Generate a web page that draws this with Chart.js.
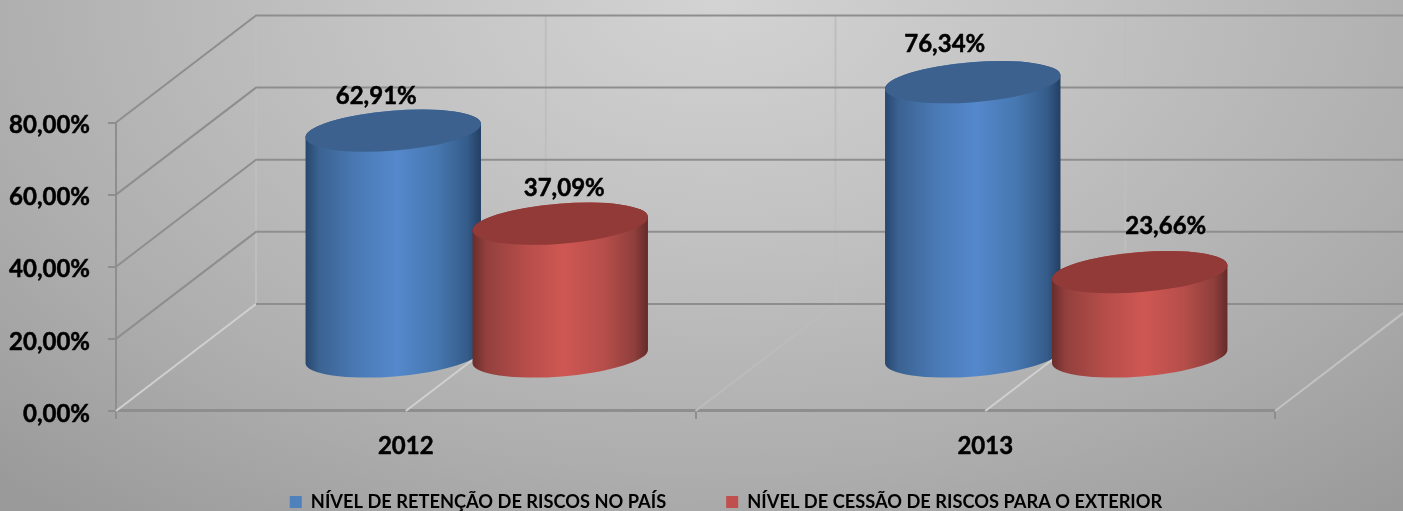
<!DOCTYPE html>
<html>
<head>
<meta charset="utf-8">
<style>
  html, body { margin: 0; padding: 0; }
  body {
    width: 1403px; height: 511px; overflow: hidden;
    background: radial-gradient(ellipse 1050px 660px at 720px 0px, #d3d3d3 0%, #c2c2c2 35%, #adadad 72%, #9a9a9a 100%);
  }
  canvas { display: block; }
</style>
<script src="https://cdn.jsdelivr.net/npm/chart.js@4"></script>
</head>
<body>
<canvas id="chart" width="1403" height="511"></canvas>
<script>
const years = ["2012", "2013"];
const retencao = [62.91, 76.34];
const cessao = [37.09, 23.66];
const seriesNames = ["NÍVEL DE RETENÇÃO DE RISCOS NO PAÍS", "NÍVEL DE CESSÃO DE RISCOS PARA O EXTERIOR"];
const yTicks = [0, 20, 40, 60, 80];

const fontFamily = "Lato, Carlito, sans-serif";
const depthX = 140, depthY = 107;   // how far the back wall sits behind the front axes
const barDx = 71, barDy = 53.5;     // bars stand half way into the floor
const tilt = -0.08, capRy = 20;

const blueStops = ["#27466e", "#3b6392", "#4a7ab6", "#5588cc", "#4677b0", "#355c8a", "#233e63"];
const redStops = ["#682c2a", "#93403d", "#b54d49", "#cf5753", "#b64e4a", "#8f3f3c", "#632b29"];
const capColors = ["#3c618e", "#913a37"];
const floorColors = ["#d0d0d0", "#d0d0d0", "#bcbcbc", "#d0d0d0", "#c2c2c2"];
// label nudges from the top of each cylinder, per dataset then per year
const labelNudge = [[[-17, -34], [-28, -38]], [[4, -35], [26, -46]]];

function fmt(v) {
  return v.toFixed(2).replace(".", ",") + "%";
}

function drawWalls(chart) {
  const { ctx, scales: { x, y } } = chart;
  const left = x.left, right = x.right, y0 = y.getPixelForValue(0);
  const backRight = right + depthX;
  ctx.save();
  // vertical lines on the back wall and light floor lines
  const half = (right - left) / 4;
  ctx.strokeStyle = "#bebebe";
  ctx.lineWidth = 2;
  [0, 1, 2, 3].forEach(function (i) {
    const bx = left + depthX + half * i;
    ctx.beginPath();
    ctx.moveTo(bx, y.getPixelForValue(80) - depthY);
    ctx.lineTo(bx, y0 - depthY);
    ctx.stroke();
  });
  floorColors.forEach(function (c, i) {
    const fx = left + half * i;
    ctx.strokeStyle = c;
    ctx.beginPath();
    ctx.moveTo(fx, y0);
    ctx.lineTo(fx + depthX, y0 - depthY);
    ctx.stroke();
  });
  // gridlines on side wall and back wall
  ctx.strokeStyle = "#8e8e8e";
  yTicks.forEach(function (t) {
    const py = y.getPixelForValue(t);
    ctx.beginPath();
    if (t > 0) {
      ctx.moveTo(left, py);
      ctx.lineTo(left + depthX, py - depthY);
    } else {
      ctx.moveTo(left + depthX, py - depthY);
    }
    ctx.lineTo(backRight, py - depthY);
    ctx.stroke();
  });
  ctx.restore();
}

function drawCylinder(ctx, el, stops, capColor) {
  const cx = el.x + barDx, top = el.y - barDy, base = el.base - barDy;
  const rx = el.width / 2;
  const g = ctx.createLinearGradient(cx - rx, 0, cx + rx, 0);
  [0, 0.08, 0.3, 0.52, 0.75, 0.92, 1].forEach(function (p, i) { g.addColorStop(p, stops[i]); });
  ctx.fillStyle = g;
  ctx.beginPath();
  ctx.ellipse(cx, base, rx, capRy, tilt, 0, Math.PI);
  ctx.ellipse(cx, top, rx, capRy, tilt, Math.PI, Math.PI * 2);
  ctx.closePath();
  ctx.fill();
  ctx.fillStyle = capColor;
  ctx.beginPath();
  ctx.ellipse(cx, top, rx, capRy, tilt, 0, Math.PI * 2);
  ctx.fill();
}

const cylinderPlugin = {
  id: "cylinders",
  afterLayout(chart) {
    // legend sits right of the middle and low down in the original
    chart.legend.left += 88.5;
    chart.legend.right += 88.5;
    chart.legend.top -= 41;
    chart.legend.bottom -= 41;
  },
  beforeDatasetsDraw(chart) {
    const ctx = chart.ctx;
    drawWalls(chart);
    chart.data.datasets.forEach(function (ds, i) {
      chart.getDatasetMeta(i).data.forEach(function (el) {
        drawCylinder(ctx, el, i === 0 ? blueStops : redStops, capColors[i]);
      });
    });
    ctx.save();
    ctx.fillStyle = "#000";
    ctx.strokeStyle = "#000";
    ctx.lineWidth = 0.5;
    ctx.font = "bold 24px " + fontFamily;
    ctx.textAlign = "center";
    ctx.textBaseline = "middle";
    chart.data.datasets.forEach(function (ds, i) {
      chart.getDatasetMeta(i).data.forEach(function (el, j) {
        const n = labelNudge[i][j];
        const lx = el.x + barDx + n[0], ly = el.y - barDy + n[1];
        ctx.fillText(fmt(ds.data[j]), lx, ly);
        ctx.strokeText(fmt(ds.data[j]), lx, ly);
      });
    });
    ctx.restore();
    return false;
  }
};

new Chart(document.getElementById("chart"), {
  type: "bar",
  data: {
    labels: years,
    datasets: [
      { label: seriesNames[0], data: retencao, backgroundColor: "#4f81bd" },
      { label: seriesNames[1], data: cessao, backgroundColor: "#c0504d" }
    ]
  },
  options: {
    responsive: false,
    animation: false,
    devicePixelRatio: 1,
    categoryPercentage: 0.5763,
    barPercentage: 1.054,
    layout: { padding: { right: 128, top: 122.5, bottom: -51 } },
    scales: {
      x: {
        grid: { drawOnChartArea: false, color: "#8e8e8e", lineWidth: 2, tickLength: 8 },
        border: { color: "#8e8e8e", width: 3 },
        ticks: {
          color: "#000",
          font: { family: fontFamily, size: 24, weight: "bold" },
          padding: 13,
          maxRotation: 0,
          textStrokeColor: "#000",
          textStrokeWidth: 0.5
        }
      },
      y: {
        min: 0,
        max: 80,
        afterFit(scale) { scale.width = 116; },
        grid: { drawOnChartArea: false, color: "#8e8e8e", lineWidth: 2, tickLength: 8 },
        border: { color: "#8e8e8e", width: 2 },
        ticks: {
          stepSize: 20,
          color: "#000",
          padding: 18,
          labelOffset: 3,
          font: { family: fontFamily, size: 24, weight: "bold" },
          textStrokeColor: "#000",
          textStrokeWidth: 0.5,
          callback: function (v) { return fmt(v); }
        }
      }
    },
    plugins: {
      tooltip: { enabled: false },
      legend: {
        position: "bottom",
        labels: {
          color: "#000",
          boxWidth: 12,
          boxHeight: 12,
          padding: 60,
          font: { family: fontFamily, size: 18.25, weight: "bold" }
        }
      }
    }
  },
  plugins: [cylinderPlugin]
});
</script>
</body>
</html>
